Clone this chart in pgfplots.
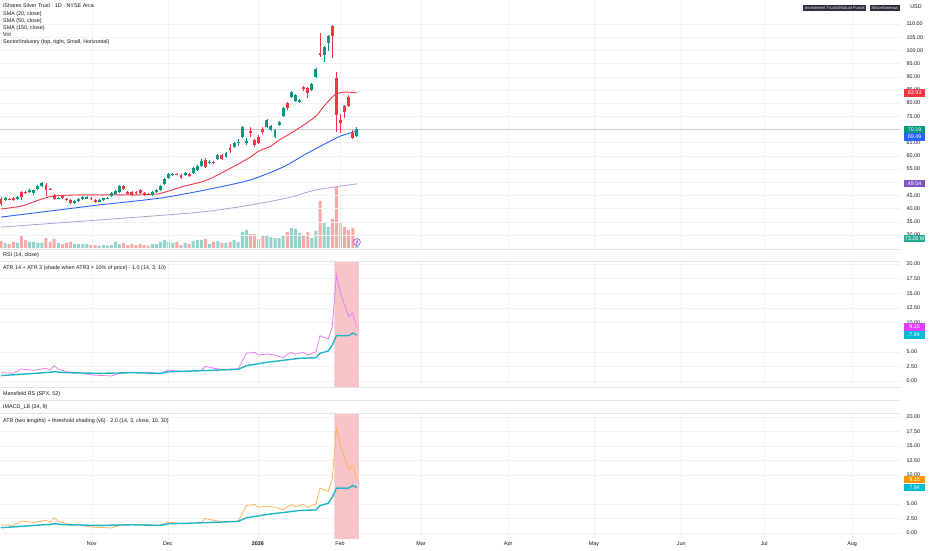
\documentclass[border=0pt]{standalone}
\usepackage{fontspec}
\setmainfont{Liberation Sans}
\usepackage{pgfplots}
\usepackage{pgfplotstable}
\pgfplotsset{compat=1.18}

\definecolor{tvtext}{HTML}{131722}
\definecolor{cup}{HTML}{089981}
\definecolor{cdn}{HTML}{F23645}
\definecolor{vup}{HTML}{92D3CB}
\definecolor{vdn}{HTML}{F7A9AA}
\definecolor{smaA}{HTML}{F23645}
\definecolor{smaB}{HTML}{2962FF}
\definecolor{smaC}{HTML}{B39DDB}
\definecolor{atrpink}{HTML}{E77EF3}
\definecolor{atrcyan}{HTML}{1FB5C9}
\definecolor{atrorange}{HTML}{FFB35C}
\definecolor{shadec}{HTML}{F9C4C8}
\definecolor{sepc}{HTML}{E3E5EB}
\definecolor{gridc}{HTML}{F1F2F5}
\definecolor{badge}{HTML}{2A2E39}
\definecolor{lblpurple}{HTML}{7E57C2}
\definecolor{lblteal}{HTML}{22AB94}
\definecolor{lblmag}{HTML}{E040FB}
\definecolor{lblcyan}{HTML}{00BCD4}
\definecolor{lblorange}{HTML}{FF9800}

\newcommand{\tvf}{\fontsize{5.4}{6}\selectfont}

% candles: k open high low close
\pgfplotstableread{
k o h l c
1 43.3 44.4 42.9 44.0
4 43.6 44.8 43.3 44.4
7 46.3 47.4 45.9 47.0
8 45.9 47.2 45.2 47.0
9 47.4 49.0 47.0 48.6
10 48.6 50.1 48.2 49.7
14 43.8 44.5 43.5 44.1
18 42.1 43.3 41.7 42.9
19 42.9 44.0 42.5 43.7
20 43.7 44.8 43.3 44.4
21 44.0 44.8 43.6 44.4
24 42.9 43.6 42.7 43.2
25 43.3 44.2 43.0 43.9
26 43.9 44.4 43.6 44.1
27 44.8 46.3 44.5 46.0
28 45.6 47.0 45.3 46.7
29 46.4 48.9 46.0 48.5
37 45.0 46.7 44.6 46.3
38 46.3 47.3 46.0 46.9
39 47.1 48.9 46.7 48.6
40 49.3 51.6 48.9 51.2
41 51.6 53.5 51.2 53.1
42 52.8 53.5 52.4 53.1
45 52.8 53.9 52.4 53.5
47 53.5 55.8 53.1 55.4
48 54.6 56.5 54.2 56.2
49 56.2 58.8 55.8 58.0
51 57.6 58.4 57.0 57.8
53 58.8 60.7 58.4 60.3
55 59.6 61.5 59.2 61.1
57 63.4 65.3 63.0 64.9
58 64.9 66.4 63.8 65.3
59 67.2 71.3 66.8 70.9
60 64.9 66.8 64.1 65.7
65 70.9 74.0 70.5 73.6
66 69.8 71.7 69.4 71.3
67 67.2 70.2 66.8 69.8
68 71.7 73.2 71.3 72.8
69 75.1 78.5 74.7 78.1
71 82.3 84.6 81.9 84.2
72 80.8 83.5 80.4 83.1
73 80.4 81.6 80.0 81.2
76 85.0 87.6 84.6 87.2
77 89.9 93.3 89.5 92.9
79 98.2 101.7 95.6 101.3
80 102.8 105.9 99.8 105.5
87 67.6 71.0 67.2 70.2
}\upc

\pgfplotstableread{
k o h l c
0 43.7 44.4 41.0 41.8
2 43.8 44.1 43.3 43.6
3 44.0 44.3 43.0 43.3
5 46.3 46.8 43.2 44.4
6 46.3 46.6 45.7 46.0
11 49.0 49.7 44.8 47.1
12 47.6 47.8 47.1 47.3
13 45.2 45.5 43.3 43.7
15 44.8 45.2 43.6 44.0
16 43.6 43.9 43.0 43.4
17 43.3 43.6 41.7 42.1
22 44.0 44.4 43.3 43.7
23 43.3 43.6 42.3 42.7
30 48.6 48.9 47.0 47.4
31 46.2 46.7 45.5 45.9
32 46.3 46.7 44.8 45.2
33 46.3 46.7 45.6 46.0
34 47.1 47.5 45.6 46.0
35 46.0 46.3 44.8 45.2
36 45.5 45.9 45.0 45.3
43 53.1 53.5 52.6 52.9
44 52.6 53.1 51.2 51.6
46 53.1 53.5 52.0 52.4
50 58.4 59.2 55.4 55.8
52 57.7 58.0 56.9 57.3
54 60.3 60.7 58.4 58.8
56 63.0 64.5 61.1 62.2
61 69.4 70.9 67.2 68.7
62 66.0 66.4 63.4 64.1
63 67.2 67.9 64.5 64.9
64 70.2 70.9 68.3 69.0
70 80.1 80.5 77.4 78.3
74 86.1 86.5 84.6 85.4
75 85.8 86.1 82.0 83.9
78 99.0 106.6 97.5 98.2
81 109.2 109.6 97.1 105.5
82 89.5 91.8 69.1 75.5
83 73.6 75.9 68.7 72.5
84 78.9 79.3 74.4 76.6
85 82.3 83.1 78.5 78.9
86 68.7 69.8 66.4 66.8
}\dnc

% volume (millions)
\pgfplotstableread{
k v
1 41
4 41
7 49
8 49
9 41
10 41
14 41
18 32
19 32
20 32
21 32
24 20
25 24
26 20
27 24
28 49
29 32
37 32
38 32
39 49
40 65
41 49
42 41
45 41
47 57
48 65
49 65
51 32
53 57
55 41
57 65
58 49
59 130
60 146
65 97
66 89
67 81
68 81
69 105
71 162
72 154
73 122
76 81
77 138
79 203
80 170
87 73.28
}\volup

\pgfplotstableread{
k v
0 57
2 32
3 49
5 105
6 65
11 81
12 49
13 73
15 32
16 41
17 49
22 24
23 24
30 41
31 24
32 32
33 24
34 32
35 24
36 20
43 49
44 24
46 32
50 73
52 49
54 41
56 49
61 113
62 113
63 73
64 97
70 130
74 97
75 130
78 381
81 235
82 494
83 203
84 170
85 146
86 162
}\voldn

\pgfplotstableread{
k v
0 0.91
12 1.49
13 1.59
16 1.42
24 1.31
32 1.42
39 1.31
41 1.59
49 1.76
58 2.00
60 2.62
65 3.20
73 3.88
77 3.98
78 4.74
80 5.13
81 6.15
82 7.74
85 7.74
86 8.20
87 7.84
}\atrlong

\pgfplotstableread{
k v
0 1.42
3 1.32
5 2.05
8 1.83
11 2.17
12 1.88
13 2.61
14 2.05
16 1.59
19 1.42
22 1.03
24 0.97
27 0.85
29 1.32
32 1.49
36 1.42
39 1.32
41 1.88
43 1.71
45 1.59
49 1.83
50 2.51
52 2.17
54 2.00
58 2.05
60 4.74
62 4.91
63 4.44
65 4.62
67 4.44
69 3.98
70 4.56
71 4.91
72 4.56
74 4.91
75 4.44
77 5.01
78 7.74
80 7.18
81 9.28
82 18.10
83 15.00
85 11.00
86 11.60
87 9.15
}\atrshort

\pgfplotsset{
  tvpane/.style={
    scale only axis, width=900pt, anchor=north west,
    xmin=-0.2445, xmax=219.8,
    axis line style={draw=none}, tick style={draw=none}, major tick length=0pt,
    xtick={22.2,40.8,62.8,82.9,102.7,124.0,145.0,166.3,186.6,208.1},
    xticklabels={},
    xmajorgrids, ymajorgrids, grid style={gridc, line width=0.5pt},
    yticklabel pos=right,
    yticklabel style={font=\tvf, text=tvtext, anchor=west, xshift=3pt,
      /pgf/number format/.cd, fixed, fixed zerofill, precision=2, assume math mode=true},
  },
  candlewick/.style={draw=none, mark=none, error bars/.cd, y dir=both, y explicit,
    error mark=none, error bar style={draw=#1, line width=0.7pt}},
  candlebody/.style={draw=none, mark=none, error bars/.cd, y dir=both, y explicit,
    error mark=none, error bar style={draw=#1, line width=2.9pt}},
}

\begin{document}
\begin{tikzpicture}[x=1pt,y=1pt]
\fill[white] (0pt,0pt) rectangle (932pt,-550pt);
\useasboundingbox (0pt,0pt) rectangle (932pt,-550pt);

% ---------- volume overlay ----------
\begin{axis}[tvpane, at={(0pt,0pt)}, height=248pt, ymin=0, ymax=2009,
  ytick=\empty, xmajorgrids=false, ymajorgrids=false]
\addplot[ybar, bar width=3pt, bar shift=0pt, fill=vup, draw=none] table[x=k,y=v] {\volup};
\addplot[ybar, bar width=3pt, bar shift=0pt, fill=vdn, draw=none] table[x=k,y=v] {\voldn};
\end{axis}

% ---------- main price pane ----------
\begin{axis}[tvpane, at={(0pt,0pt)}, height=248pt, ymin=25.07, ymax=119.1,
  ytick={30,35,...,110}]
\addplot[color=gray!40, line width=0.5pt] coordinates {(-1,70.19) (225,70.19)};
\addplot[smaC, line width=0.8pt, smooth, tension=0.4] coordinates {
(0,33.0) (24,35.7) (37,37.2) (49,38.7) (58,40.6) (65,42.5) (71,44.4) (77,47.1) (87,49.4)};
\addplot[smaB, line width=0.9pt, smooth, tension=0.4] coordinates {
(0,36.8) (12,39.1) (24,41.4) (39,44.0) (51,47.4) (61,50.9) (69,55.8) (75,61.1) (81,66.0) (83,67.5) (87,69.4)};
\addplot[smaA, line width=0.9pt, smooth, tension=0.4] coordinates {
(0,39.86) (5,41.0) (10,43.65) (13,44.8) (19,45.2) (32,45.2) (38,45.5) (41,46.7) (45,48.6) (49,50.1) (52,52.0) (58,56.9) (61,59.6) (63,61.8) (66,63.7) (68,66.0) (71,68.7) (74,71.7) (77,75.1) (79,78.9) (81,82.3) (82,83.5) (84,84.2) (87,83.9)};
% wicks
\addplot[candlewick=cup] table[x=k, y expr={(\thisrow{h}+\thisrow{l})/2}, y error expr={(\thisrow{h}-\thisrow{l})/2}] {\upc};
\addplot[candlewick=cdn] table[x=k, y expr={(\thisrow{h}+\thisrow{l})/2}, y error expr={(\thisrow{h}-\thisrow{l})/2}] {\dnc};
% bodies
\addplot[candlebody=cup] table[x=k, y expr={(\thisrow{o}+\thisrow{c})/2}, y error expr={abs(\thisrow{c}-\thisrow{o})/2}] {\upc};
\addplot[candlebody=cdn] table[x=k, y expr={(\thisrow{o}+\thisrow{c})/2}, y error expr={abs(\thisrow{c}-\thisrow{o})/2}] {\dnc};
\end{axis}

% ---------- ATR pane 1 ----------
\begin{axis}[tvpane, at={(0pt,-262pt)}, height=124pt, ymin=-0.855, ymax=20.34,
  ytick={0,2.5,5,10,12.5,15,17.5,20}]
\addplot[fill=shadec, draw=none] coordinates {(81.5,-2) (81.5,22) (87.5,22) (87.5,-2) (81.5,-2)};
\addplot[atrpink, line width=0.8pt] table[x=k,y=v] {\atrshort};
\addplot[atrcyan, line width=1.4pt] table[x=k,y=v] {\atrlong};
\end{axis}

% ---------- ATR pane 2 ----------
\begin{axis}[tvpane, at={(0pt,-414pt)}, height=124pt, ymin=-0.862, ymax=20.52,
  ytick={0,2.5,5,10,12.5,15,17.5,20},
  xticklabels={Nov,Dec,\textbf{2026},Feb,Mar,Apr,May,Jun,Jul,Aug},
  xticklabel style={font=\tvf, text=tvtext, anchor=center, yshift=-6pt}]
\addplot[fill=shadec, draw=none] coordinates {(81.5,-2) (81.5,22) (87.5,22) (87.5,-2) (81.5,-2)};
\addplot[atrorange, line width=0.8pt] table[x=k,y=v] {\atrshort};
\addplot[atrcyan, line width=1.4pt] table[x=k,y=v] {\atrlong};
\end{axis}

% ---------- separators ----------
\foreach \yy in {-249.5,-261.5,-387.5,-400.5,-413}
  \draw[sepc, line width=0.6pt] (0pt,\yy pt) -- (900pt,\yy pt);

% ---------- pane legends ----------
\begin{scope}[every node/.style={font=\tvf, text=tvtext, anchor=west, inner sep=0pt}]
\node at (3pt,-6pt) {iShares Silver Trust · 1D · NYSE Arca};
\node at (3pt,-14pt) {SMA (20, close)};
\node at (3pt,-21pt) {SMA (50, close)};
\node at (3pt,-28pt) {SMA (150, close)};
\node at (3pt,-35pt) {Vol};
\node at (3pt,-42pt) {Sector/Industry (top, right, Small, Horizontal)};
\node at (3pt,-255pt) {RSI (14, close)};
\node at (3pt,-268.5pt) {ATR 14 + ATR 3 (shade when ATR3 > 10\% of price) · 1.0 (14, 3, 10)};
\node at (3pt,-394pt) {Mansfield RS (SPX, 52)};
\node at (3pt,-407pt) {IMACD\_LB (34, 9)};
\node at (3pt,-421pt) {ATR (two lengths) + threshold shading (v6) · 2.0 (14, 3, close, 10, 30)};
\node[anchor=center] at (916pt,-7pt) {USD};
\end{scope}

% ---------- badges ----------
\node[fill=badge, text=white!85!gray, font=\fontsize{4.2}{5}\selectfont, inner xsep=1.5pt, inner ysep=1.2pt, anchor=east] at (866.5pt,-8pt) {Investment Trusts/Mutual Funds};
\node[fill=badge, text=white!85!gray, font=\fontsize{4.2}{5}\selectfont, inner xsep=1.5pt, inner ysep=1.2pt, anchor=east] at (900pt,-8pt) {Miscellaneous};

% ---------- last value labels ----------
\begin{scope}[every node/.style={font=\tvf, text=white, anchor=west, minimum width=21pt, minimum height=7.6pt, inner sep=0.5pt}]
\node[fill=cdn] at (904pt,-92.8pt) {83.93};
\node[fill=cup] at (904pt,-129.4pt) {70.19};
\node[fill=smaB] at (904pt,-137pt) {69.49};
\node[fill=lblpurple] at (904pt,-183.5pt) {49.54};
\node[fill=lblteal] at (904pt,-238.5pt) {73.28 M};
\node[fill=lblmag] at (904pt,-327pt) {9.15};
\node[fill=lblcyan] at (904pt,-335pt) {7.84};
\node[fill=lblorange] at (904pt,-479.5pt) {9.15};
\node[fill=lblcyan] at (904pt,-487.5pt) {7.84};
\end{scope}

% ---------- icon ----------
\draw[color=lblpurple!80!magenta, fill=white, line width=0.6pt] (357pt,-242pt) circle (3.4pt);
\draw[color=lblpurple!80!magenta, line width=0.5pt] (357.8pt,-239.6pt) -- (356.2pt,-242.2pt) -- (357.8pt,-241.8pt) -- (356.2pt,-244.4pt);
\end{tikzpicture}
\end{document}
